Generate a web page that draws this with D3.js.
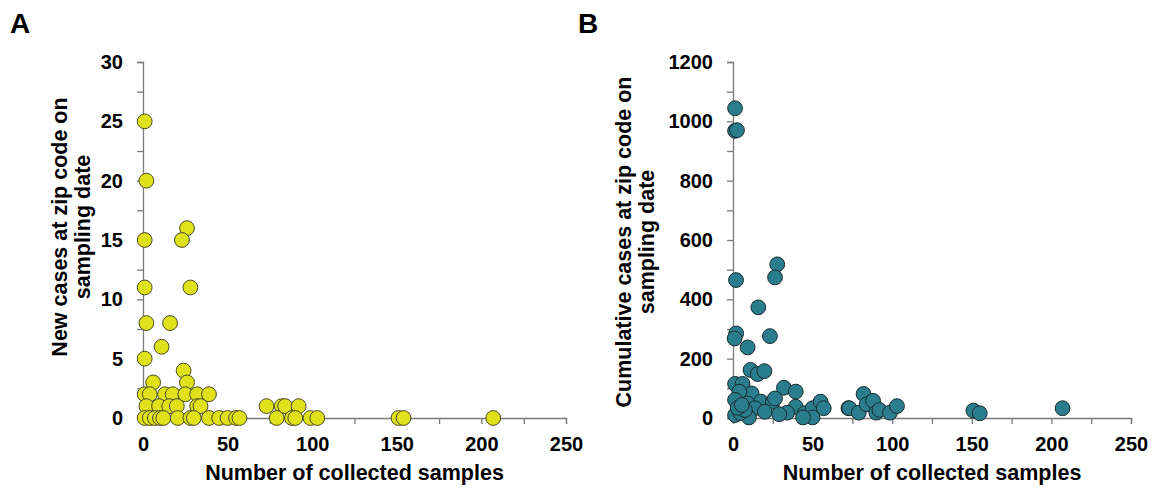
<!DOCTYPE html>
<html>
<head>
<meta charset="utf-8">
<script src="https://cdn.jsdelivr.net/npm/d3@7"></script>
<style>
  body { margin: 0; background: #fff; }
  svg { font-family: "Liberation Sans", Arial, sans-serif; }
  .axis path, .axis line { stroke: #7a7a7a; stroke-width: 1.3; }
  .axis text { font-size: 20px; font-weight: bold; fill: #000; }
  .title { font-size: 21.5px; font-weight: bold; fill: #000; }
  .panel-label { font-size: 28px; font-weight: bold; fill: #000; }
</style>
</head>
<body>
<div id="chart"></div>
<script>
// panel A: samples vs new cases
var samplesA = [1, 2, 26, 1, 23, 1, 28, 2, 16, 11, 1, 24, 6, 26,
    1, 4, 13, 17.5, 25, 32, 39,
    2, 9.5, 15.5, 20, 32, 34,
    1, 4, 7, 10, 12, 20.5, 28, 30, 39, 45, 50, 55, 57,
    73, 82, 84, 92,
    79, 88, 90, 99, 103, 151, 154, 207];
var newCases = [25, 20, 16, 15, 15, 11, 11, 8, 8, 6, 5, 4, 3, 3,
    2, 2, 2, 2, 2, 2, 2,
    1, 1, 1, 1, 1, 1,
    0, 0, 0, 0, 0, 0, 0, 0, 0, 0, 0, 0, 0,
    1, 1, 1, 1,
    0, 0, 0, 0, 0, 0, 0, 0];

// panel B: samples vs cumulative cases
var samplesB = [1.3, 1.3, 2.5, 27.8, 26.4, 1.9, 15.9, 2, 1, 23.2, 9.2, 11, 15.5, 19.7,
    1.3, 6, 11.7, 4, 32, 39.4, 1.3, 9.2, 17.6, 25, 26.4, 39.4, 13.8, 20, 34, 29,
    45, 50, 55, 57, 50, 44, 10, 1.3, 4.5, 7.5, 3, 5.5, 72.5,
    73, 79, 82, 84, 88, 90, 92, 98.6, 103, 151, 155, 207];
var cumCases = [1044, 968, 970, 518, 474, 465, 373, 285, 268, 276, 238, 162, 148, 158,
    115, 115, 83, 89, 102, 89, 61, 49, 55, 55, 66, 38, 33, 21, 18, 13,
    16, 33, 55, 33, 2, 2, 2, 10, 17, 27, 34, 44, 33,
    33, 18, 81, 46, 58, 18, 27, 18, 40, 25, 16, 33];

var xTicks = [0, 50, 100, 150, 200, 250];
var xMinor = [25, 75, 125, 175, 225];
var yTicksA = [0, 5, 10, 15, 20, 25, 30];
var yMinorA = [2.5, 7.5, 12.5, 17.5, 22.5, 27.5];
var yTicksB = [0, 200, 400, 600, 800, 1000, 1200];
var yMinorB = [100, 300, 500, 700, 900, 1100];

var svg = d3.select('#chart')
    .append('svg')
    .attr('width', 1157)
    .attr('height', 489);

function drawPanel(opt) {
    var x = d3.scaleLinear().domain([0, 250]).range([opt.left, opt.right]);
    var y = d3.scaleLinear().domain([0, opt.ymax]).range([418, 62]);

    // minor ticks first
    svg.append('g')
        .attr('class', 'axis')
        .attr('transform', 'translate(0,418)')
        .call(d3.axisBottom(x).tickValues(xMinor).tickSize(6).tickFormat(''))
        .select('.domain').remove();
    svg.append('g')
        .attr('class', 'axis')
        .attr('transform', `translate(${opt.left},0)`)
        .call(d3.axisLeft(y).tickValues(opt.yMinor).tickSize(6).tickFormat(''))
        .select('.domain').remove();

    svg.append('g')
        .attr('class', 'axis')
        .attr('transform', 'translate(0,418)')
        .call(d3.axisBottom(x).tickValues(xTicks).tickFormat(d3.format('d'))
            .tickSizeOuter(0).tickSize(6).tickPadding(13));
    svg.append('g')
        .attr('class', 'axis')
        .attr('transform', `translate(${opt.left},0)`)
        .call(d3.axisLeft(y).tickValues(opt.yTicks).tickFormat(d3.format('d'))
            .tickSizeOuter(0).tickSize(6).tickPadding(14));

    // points
    svg.append('g').selectAll('circle')
        .data(opt.xs)
        .enter()
        .append('circle')
        .attr('cx', (d, i) => x(d))
        .attr('cy', (d, i) => y(opt.ys[i]))
        .attr('r', 7.4)
        .attr('fill', opt.fill)
        .attr('stroke', opt.stroke)
        .attr('stroke-width', 1);

    // axis titles
    svg.append('text')
        .attr('class', 'title')
        .attr('x', (opt.left + opt.right) / 2)
        .attr('y', 480)
        .attr('text-anchor', 'middle')
        .text('Number of collected samples');

    var yl = svg.append('text')
        .attr('class', 'title')
        .attr('text-anchor', 'middle')
        .attr('transform', `translate(${opt.ylx}, ${opt.yly}) rotate(-90)`);
    yl.append('tspan').attr('x', 0).attr('y', 0).text(opt.ylabel[0]);
    yl.append('tspan').attr('x', 0).attr('y', 23).text(opt.ylabel[1]);

    svg.append('text')
        .attr('class', 'panel-label')
        .attr('x', opt.labelX)
        .attr('y', 33)
        .text(opt.label);
}

drawPanel({
    left: 143, right: 566, ymax: 30,
    yTicks: yTicksA, yMinor: yMinorA,
    xs: samplesA, ys: newCases,
    fill: '#dfe21a', stroke: '#4a4a2a',
    ylabel: ['New cases at zip code on', 'sampling date'],
    ylx: 67, yly: 227,
    label: 'A', labelX: 10
});

drawPanel({
    left: 733, right: 1131, ymax: 1200,
    yTicks: yTicksB, yMinor: yMinorB,
    xs: samplesB, ys: cumCases,
    fill: '#2a7d8c', stroke: '#1a2a2e',
    ylabel: ['Cumulative cases at zip code on', 'sampling date'],
    ylx: 631, yly: 242,
    label: 'B', labelX: 578
});
</script>
</body>
</html>
